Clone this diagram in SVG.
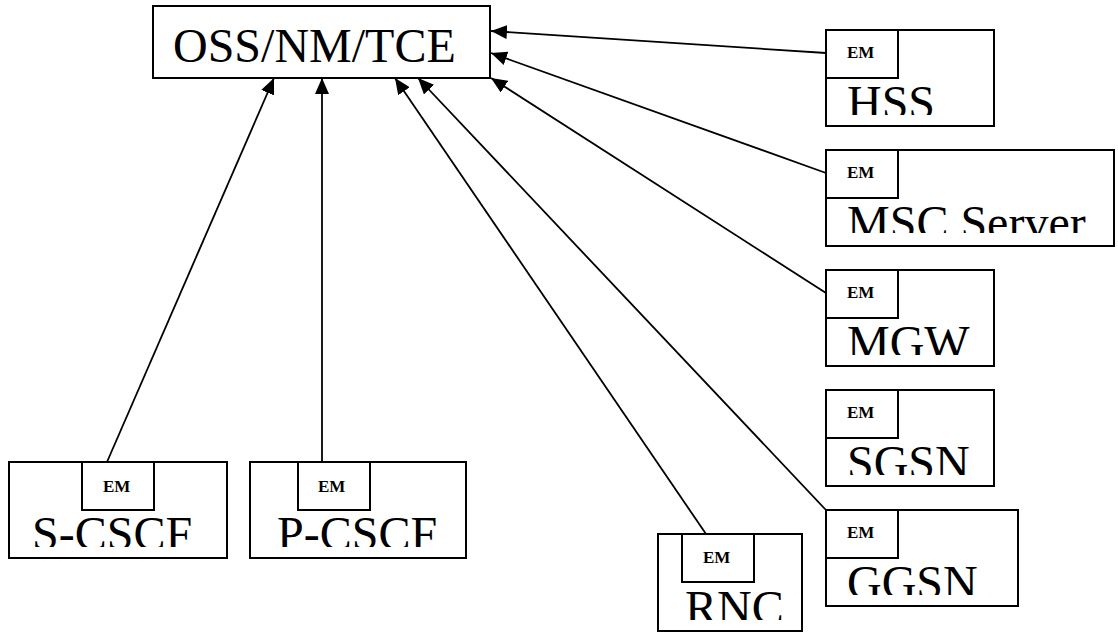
<svg xmlns="http://www.w3.org/2000/svg" width="1118" height="632" viewBox="0 0 1118 632">
<style>
.box{fill:#fff;stroke:#000;stroke-width:2}
.em{fill:none;stroke:#000;stroke-width:2}
.emt{font-family:"Liberation Serif",serif;font-weight:bold;font-size:17px;fill:#000}
.big{font-family:"Liberation Serif",serif;font-size:48px;fill:#000}
.conn{stroke:#000;stroke-width:1.8;fill:none;marker-end:url(#arr)}
</style>
<defs>
<marker id="arr" markerUnits="userSpaceOnUse" markerWidth="17" markerHeight="14" refX="16" refY="7" orient="auto">
<path d="M0,0 L16,7 L0,14 z" fill="#000"/>
</marker>
<clipPath id="cHSS"><rect x="826" y="78" width="168" height="37"/></clipPath>
<clipPath id="cMSC"><rect x="826" y="198" width="288" height="35"/></clipPath>
<clipPath id="cMGW"><rect x="826" y="318" width="168" height="37"/></clipPath>
<clipPath id="cSGSN"><rect x="826" y="438" width="168" height="37"/></clipPath>
<clipPath id="cGGSN"><rect x="826" y="558" width="192" height="37"/></clipPath>
<clipPath id="cS"><rect x="9" y="510" width="218" height="37"/></clipPath>
<clipPath id="cP"><rect x="250" y="510" width="216" height="37"/></clipPath>
<clipPath id="cRNC"><rect x="658" y="582" width="144" height="38"/></clipPath>
</defs>
<g id="connectors">
<line class="conn" x1="826" y1="53" x2="491" y2="31"/>
<line class="conn" x1="826" y1="173" x2="491" y2="53"/>
<line class="conn" x1="826" y1="293" x2="491" y2="78"/>
<line class="conn" x1="826" y1="510" x2="418" y2="78"/>
<line class="conn" x1="706" y1="534" x2="395" y2="78"/>
<line class="conn" x1="322" y1="462" x2="322" y2="78"/>
<line class="conn" x1="107" y1="462" x2="274" y2="78"/>
</g>
<g id="oss">
<rect class="box" x="153" y="6" width="337" height="72"/>
<text class="big" x="173" y="62">OSS/NM/TCE</text>
</g>
<g id="hss">
<rect class="box" x="826" y="30" width="168" height="96"/>
<rect class="em" x="826" y="30" width="72" height="48"/>
<text class="emt" x="847" y="58">EM</text>
<text class="big" x="847" y="119" clip-path="url(#cHSS)">HSS</text>
</g>
<g id="msc">
<rect class="box" x="826" y="150" width="288" height="96"/>
<rect class="em" x="826" y="150" width="72" height="48"/>
<text class="emt" x="847" y="178">EM</text>
<text class="big" x="847" y="239" clip-path="url(#cMSC)">MSC Server</text>
</g>
<g id="mgw">
<rect class="box" x="826" y="270" width="168" height="96"/>
<rect class="em" x="826" y="270" width="72" height="48"/>
<text class="emt" x="847" y="298">EM</text>
<text class="big" x="847" y="359" clip-path="url(#cMGW)">MGW</text>
</g>
<g id="sgsn">
<rect class="box" x="826" y="390" width="168" height="96"/>
<rect class="em" x="826" y="390" width="72" height="48"/>
<text class="emt" x="847" y="418">EM</text>
<text class="big" x="847" y="479" clip-path="url(#cSGSN)">SGSN</text>
</g>
<g id="ggsn">
<rect class="box" x="826" y="510" width="192" height="96"/>
<rect class="em" x="826" y="510" width="72" height="48"/>
<text class="emt" x="847" y="538">EM</text>
<text class="big" x="847" y="599" clip-path="url(#cGGSN)">GGSN</text>
</g>
<g id="rnc">
<rect class="box" x="658" y="534" width="144" height="97"/>
<rect class="em" x="682" y="534" width="72" height="48"/>
<text class="emt" x="703" y="563">EM</text>
<text class="big" x="685" y="624" clip-path="url(#cRNC)">RNC</text>
</g>
<g id="scscf">
<rect class="box" x="9" y="462" width="218" height="96"/>
<rect class="em" x="82" y="462" width="72" height="48"/>
<text class="emt" x="103" y="492">EM</text>
<text class="big" x="32" y="550" clip-path="url(#cS)">S-CSCF</text>
</g>
<g id="pcscf">
<rect class="box" x="250" y="462" width="216" height="96"/>
<rect class="em" x="298" y="462" width="72" height="48"/>
<text class="emt" x="318" y="492">EM</text>
<text class="big" x="277" y="550" clip-path="url(#cP)">P-CSCF</text>
</g>
</svg>
